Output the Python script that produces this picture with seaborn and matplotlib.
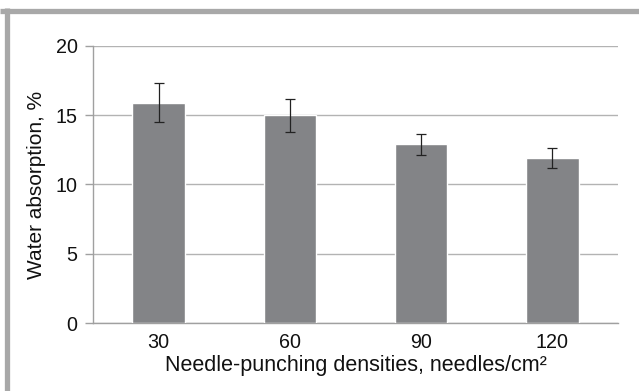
import matplotlib
matplotlib.use("Agg")
import matplotlib.pyplot as plt
import seaborn as sns
import pandas as pd
from matplotlib.lines import Line2D

categories = ["30", "60", "90", "120"]
values = [15.9, 15.0, 12.9, 11.9]
errors = [1.4, 1.2, 0.78, 0.74]
yticks = [0, 5, 10, 15, 20]

sns.set_style("white")
plt.rcParams['font.family'] = ['Liberation Sans', 'DejaVu Sans']

df = pd.DataFrame({"density": categories, "absorption": values})

fig = plt.figure(figsize=(6.39, 3.91), dpi=100)
ax = fig.add_axes([0.1455, 0.1739, 0.967 - 0.1455, 0.8824 - 0.1739])

sns.barplot(data=df, x="density", y="absorption", order=categories,
            color="#838487", saturation=1, width=0.4, errorbar=None, ax=ax,
            zorder=3)
ax.errorbar(range(len(categories)), values, yerr=errors, fmt="none",
            ecolor="#222222", elinewidth=0.9, capsize=3.5, capthick=0.9,
            zorder=4)

ax.set_ylim(0, 20)
ax.set_xlim(-0.5, len(categories) - 0.5)
ax.set_yticks(yticks)
ax.yaxis.grid(True, color="#b3b3b3", linewidth=1.0, zorder=0)
ax.set_axisbelow(True)
for s in ["top", "right"]:
    ax.spines[s].set_visible(False)
for s in ["left", "bottom"]:
    ax.spines[s].set_color("#a0a0a0")
    ax.spines[s].set_linewidth(1.0)
ax.tick_params(axis="y", which="major", left=True, length=6, width=1.0,
               color="#a0a0a0", labelsize=14.2, pad=5, labelcolor="#111111")
ax.tick_params(axis="x", bottom=False, labelsize=14.2, pad=4, labelcolor="#111111")

ax.set_ylabel("Water absorption, %", fontsize=15, color="#111111", labelpad=7)
ax.set_xlabel("Needle-punching densities, needles/cm\u00b2", fontsize=15.5,
              color="#111111", labelpad=2)

# frame (top and left borders)
fig.add_artist(Line2D([0, 1], [1 - 10.5 / 391, 1 - 10.5 / 391],
                      transform=fig.transFigure, color="#a8a8a8", linewidth=3.8,
                      solid_capstyle="butt"))
fig.add_artist(Line2D([6.5 / 639, 6.5 / 639], [0, 1 - 8 / 391],
                      transform=fig.transFigure, color="#a8a8a8", linewidth=3.8,
                      solid_capstyle="butt"))

fig.savefig("out.png", dpi=100)
